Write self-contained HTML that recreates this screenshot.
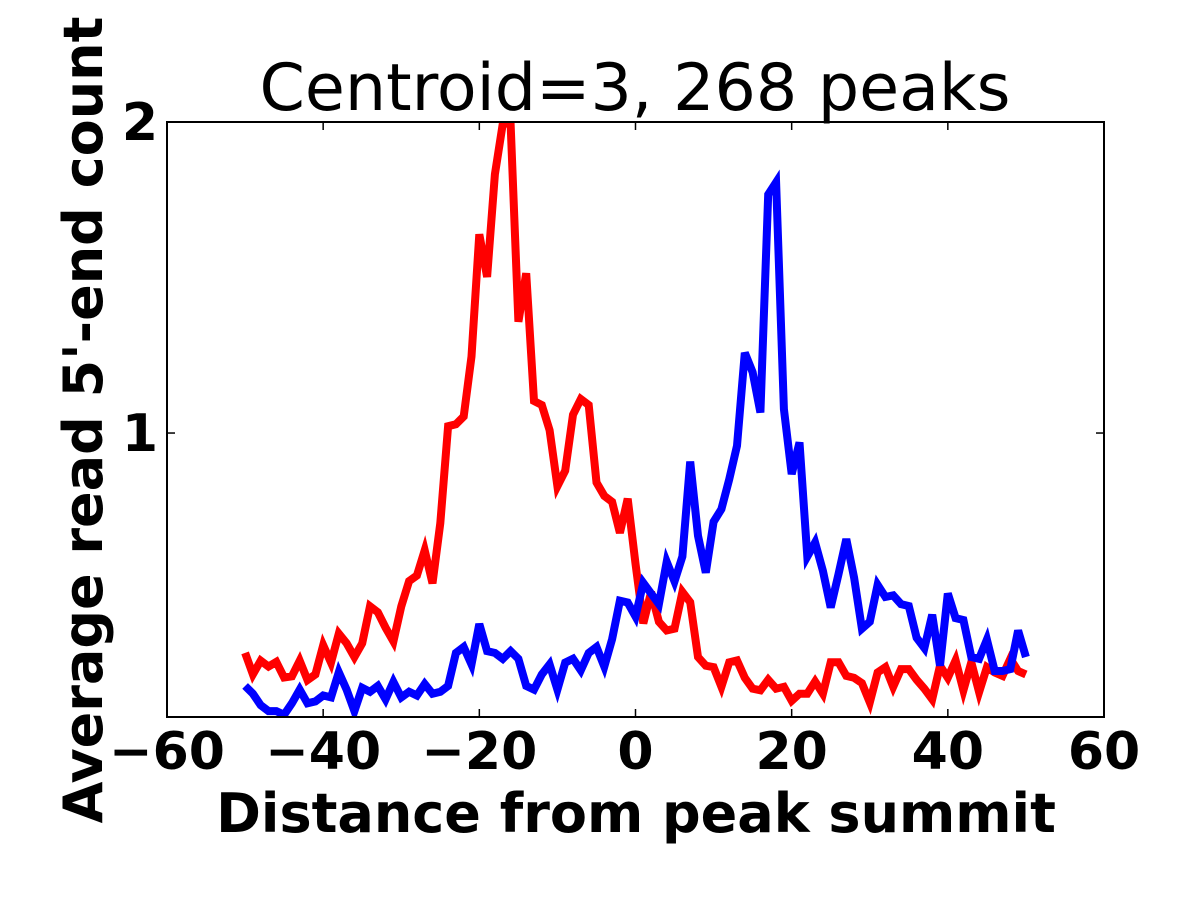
<!DOCTYPE html>
<html><head><meta charset="utf-8"><style>
html,body{margin:0;padding:0;background:#fff;}
svg{display:block;font-family:"DejaVu Sans","Liberation Sans",sans-serif;}
</style></head><body>
<svg id="chart" width="1200" height="900" viewBox="0 0 1200 900" xmlns="http://www.w3.org/2000/svg">
<rect width="1200" height="900" fill="#fff"/>
<text x="635" y="110" font-size="65" text-anchor="middle">Centroid=3, 268 peaks</text>
<defs><clipPath id="clip"><rect x="167" y="122" width="937" height="595"/></clipPath></defs>
<g id="series" clip-path="url(#clip)"></g>
<g id="axes"></g>
<text x="636" y="832" font-size="54" font-weight="bold" text-anchor="middle">Distance from peak summit</text>
<text transform="translate(102,420) rotate(-90)" font-size="54" font-weight="bold" text-anchor="middle">Average read 5'-end count</text>
</svg>
<script>
const xValues = Array.from({length:101},(_,i)=>i-50);
const redValues = [0.293,0.224,0.268,0.249,0.264,0.214,0.218,0.268,0.206,0.224,0.318,0.262,0.355,0.324,0.28,0.324,0.443,0.424,0.374,0.33,0.443,0.524,0.542,0.623,0.517,0.71,1.022,1.028,1.053,1.246,1.639,1.502,1.832,1.995,1.995,1.358,1.514,1.103,1.09,1.009,0.829,0.879,1.059,1.109,1.09,0.841,0.798,0.779,0.679,0.789,0.58,0.388,0.489,0.393,0.365,0.371,0.489,0.456,0.28,0.252,0.247,0.184,0.263,0.269,0.213,0.178,0.173,0.207,0.178,0.184,0.139,0.162,0.162,0.201,0.162,0.263,0.263,0.219,0.213,0.196,0.134,0.23,0.247,0.184,0.241,0.241,0.207,0.178,0.144,0.252,0.213,0.269,0.173,0.263,0.167,0.247,0.23,0.219,0.274,0.235,0.224];
const blueValues = [0.187,0.162,0.125,0.106,0.106,0.094,0.131,0.175,0.131,0.137,0.156,0.15,0.231,0.175,0.106,0.181,0.168,0.187,0.144,0.2,0.15,0.168,0.156,0.193,0.162,0.168,0.187,0.293,0.312,0.256,0.386,0.299,0.293,0.274,0.299,0.274,0.187,0.175,0.224,0.256,0.175,0.262,0.274,0.237,0.293,0.312,0.249,0.337,0.461,0.455,0.41,0.518,0.484,0.45,0.586,0.523,0.603,0.908,0.67,0.551,0.715,0.755,0.851,0.959,1.258,1.196,1.066,1.767,1.806,1.077,0.868,0.97,0.603,0.648,0.557,0.439,0.546,0.659,0.535,0.371,0.393,0.512,0.473,0.478,0.45,0.444,0.342,0.309,0.416,0.252,0.484,0.405,0.399,0.28,0.274,0.336,0.235,0.235,0.241,0.365,0.28];
const xTicks = [-60,-40,-20,0,20,40,60];
const xTickLabels = ["\u221260","\u221240","\u221220","0","20","40","60"];
const yTicks = [1,2];
const yTickLabels = ["1","2"];

const NS="http://www.w3.org/2000/svg";
const L=167,R=1104,T=122,B=717,XMIN=-60,XMAX=60,YMIN=0.087,YMAX=2;
const xs=v=>L+(v-XMIN)/(XMAX-XMIN)*(R-L);
const ys=v=>B-(v-YMIN)/(YMAX-YMIN)*(B-T);
function mk(tag,attrs,parent){const e=document.createElementNS(NS,tag);for(const k in attrs)e.setAttribute(k,attrs[k]);parent.appendChild(e);return e;}
const sg=document.getElementById('series');
function line(vals,color,name){
  const d=vals.map((v,i)=>(i?'L':'M')+xs(xValues[i]).toFixed(1)+','+ys(v).toFixed(1)).join('');
  const p=mk('path',{d:d,fill:'none',stroke:color,'stroke-width':8,'stroke-linejoin':'miter','stroke-miterlimit':4},sg);
  
  
}
line(redValues,'#ff0000','red-series-line');
line(blueValues,'#0000ff','blue-series-line');
const ag=document.getElementById('axes');
const frame=mk('rect',{x:L,y:T,width:R-L,height:B-T,fill:'none',stroke:'#000','stroke-width':2},ag);


xTicks.forEach((t,i)=>{
  const x=xs(t);
  mk('line',{x1:x,y1:B,x2:x,y2:B-8,stroke:'#000','stroke-width':1.5},ag);
  mk('line',{x1:x,y1:T,x2:x,y2:T+8,stroke:'#000','stroke-width':1.5},ag);
  const tx=mk('text',{x:x,y:769,'font-size':52,'font-weight':'bold','text-anchor':'middle'},ag);
  tx.textContent=xTickLabels[i];
  
  
});
yTicks.forEach((t,i)=>{
  const y=ys(t);
  mk('line',{x1:L,y1:y,x2:L+8,y2:y,stroke:'#000','stroke-width':1.5},ag);
  mk('line',{x1:R,y1:y,x2:R-8,y2:y,stroke:'#000','stroke-width':1.5},ag);
  const tx=mk('text',{x:158,y:y+18,'font-size':52,'font-weight':'bold','text-anchor':'end'},ag);
  tx.textContent=yTickLabels[i];
  
  
});
</script>
</body></html>
